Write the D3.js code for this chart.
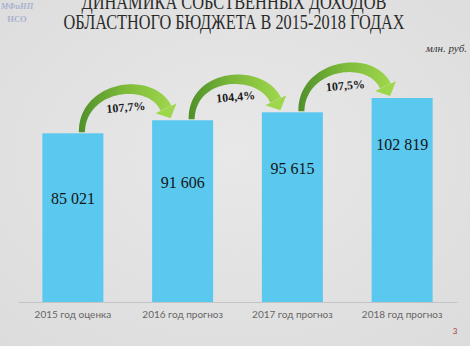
<!DOCTYPE html>
<html>
<head>
<meta charset="utf-8">
<script src="https://cdn.jsdelivr.net/npm/d3@7"></script>
<style>
  body { margin: 0; background: #e4e4e4; }
  svg { display: block; }
</style>
</head>
<body>
<svg id="chart"></svg>
<script>
var width = 470
var height = 346

// data
var categories = ["2015 год оценка", "2016 год прогноз", "2017 год прогноз", "2018 год прогноз"]
var values = [85021, 91606, 95615, 102819]
var labelDrop = [71, 68, 62, 52]   // value label baseline below bar top
var titleLines = ["ДИНАМИКА СОБСТВЕННЫХ ДОХОДОВ", "ОБЛАСТНОГО БЮДЖЕТА В 2015-2018 ГОДАХ"]

let svg = d3.select("#chart")
  .attr("width", width)
  .attr("height", height)

let defs = svg.append("defs")

let bg = defs.append("radialGradient").attr("id", "bg")
  .attr("cx", "50%").attr("cy", "45%").attr("r", "75%")
bg.append("stop").attr("offset", "0%").attr("stop-color", "#e8e8e8")
bg.append("stop").attr("offset", "100%").attr("stop-color", "#dcdcdc")
svg.append("rect").attr("width", width).attr("height", height).attr("fill", "url(#bg)")

// scales
var x = d3.scaleBand()
  .domain(categories)
  .range([18, 457])
  .paddingInner(0.444)
  .paddingOuter(0.222)

var y = d3.scaleLinear()
  .domain([0, 120000])
  .range([302, 302 - 120000 * 204 / 102819])

// title (top line is cut by the slide edge, as in the original)
svg.append("g").selectAll("text")
  .data(titleLines)
  .enter().append("text")
  .attr("x", 234)
  .attr("y", (d, i) => 9 + i * 20)
  .attr("text-anchor", "middle")
  .attr("textLength", (d, i) => i == 0 ? 305 : 341)
  .attr("lengthAdjust", "spacingAndGlyphs")
  .style("font-family", "Liberation Serif, serif")
  .style("font-size", "21px")
  .style("fill", "#2a2a2a")
  .text(d => d)

// logo
svg.append("text").attr("x", 17).attr("y", 9).attr("text-anchor", "middle")
  .style("font-family", "Liberation Serif").style("font-style", "italic").style("font-weight", "bold")
  .style("font-size", "8.5px").style("fill", "#a9b3cf").text("МФиНП")
svg.append("text").attr("x", 17).attr("y", 22).attr("text-anchor", "middle")
  .style("font-family", "Liberation Serif").style("font-weight", "bold")
  .style("font-size", "8.5px").style("fill", "#a9b3cf").text("НСО")

// units
svg.append("text").attr("x", 467).attr("y", 52).attr("text-anchor", "end")
  .style("font-family", "Liberation Serif").style("font-style", "italic")
  .style("font-size", "11px").style("fill", "#333").text("млн. руб.")

// axis
let axis = svg.append("g")
  .attr("class", "x-axis")
  .attr("transform", "translate(0,302)")
  .call(d3.axisBottom(x).tickSize(0).tickPadding(9))
axis.select(".domain").attr("stroke", "#c4c4c4")
axis.selectAll("text")
  .style("font-family", "Lato, sans-serif")
  .style("font-size", "10px")
  .style("fill", "#666")

// bars
svg.append("g").selectAll("rect")
  .data(values)
  .enter().append("rect")
  .attr("x", (d, i) => x(categories[i]))
  .attr("y", d => y(d))
  .attr("width", x.bandwidth())
  .attr("height", d => y(0) - y(d))
  .attr("fill", "#5bc8f0")

// value labels
svg.append("g").selectAll("text")
  .data(values)
  .enter().append("text")
  .attr("x", (d, i) => x(categories[i]) + x.bandwidth() / 2)
  .attr("y", (d, i) => y(d) + labelDrop[i])
  .attr("text-anchor", "middle")
  .style("font-family", "Liberation Serif, serif")
  .style("font-size", "16px")
  .style("fill", "#151515")
  .text(d => d3.format(",")(d).replace(",", " "))

// growth arrows
var growth = d3.pairs(values).map(p => p[1] / p[0] * 100)
let arrowLayer = svg.append("g")

function cubic(p0, p1, p2, p3, t) {
  var u = 1 - t
  return [
    u * u * u * p0[0] + 3 * u * u * t * p1[0] + 3 * u * t * t * p2[0] + t * t * t * p3[0],
    u * u * u * p0[1] + 3 * u * u * t * p1[1] + 3 * u * t * t * p2[1] + t * t * t * p3[1]
  ]
}

growth.forEach(function (g, i) {
  var cx0 = x(categories[i]) + x.bandwidth() / 2
  var cx1 = x(categories[i + 1]) + x.bandwidth() / 2
  var x0 = cx0 + 9, y0 = y(values[i]) - 1
  var tx = cx1 - 12, ty = y(values[i + 1]) - 2
  var ang = 65 * Math.PI / 180
  var dx = Math.cos(ang), dy = Math.sin(ang)
  var hl = 11, hw = 11.5
  var B = [tx - hl * dx, ty - hl * dy]
  var P0 = [x0, y0]
  var P1 = [x0, y0 - 47]
  var P2 = [B[0] - 36 * dx, B[1] - 36 * dy]

  // body as a band whose width grows towards the head
  var n = 40, left = [], right = []
  for (var k = 0; k <= n; k++) {
    var t = k / n
    var p = cubic(P0, P1, P2, B, t)
    var q = cubic(P0, P1, P2, B, Math.min(1, t + 0.001))
    var r = cubic(P0, P1, P2, B, Math.max(0, t - 0.001))
    var vx = q[0] - r[0], vy = q[1] - r[1]
    var len = Math.sqrt(vx * vx + vy * vy)
    var nx = -vy / len, ny = vx / len
    var w = (6 + 6 * t) / 2
    left.push([p[0] + nx * w, p[1] + ny * w])
    right.push([p[0] - nx * w, p[1] - ny * w])
  }
  var body = left.concat(right.reverse())

  var gid = "ag" + i
  let grad = defs.append("linearGradient").attr("id", gid)
    .attr("gradientUnits", "userSpaceOnUse")
    .attr("x1", x0 - 4).attr("y1", 0).attr("x2", tx).attr("y2", 0)
  grad.append("stop").attr("offset", "0%").attr("stop-color", "#4f8f2a")
  grad.append("stop").attr("offset", "50%").attr("stop-color", "#7dba3a")
  grad.append("stop").attr("offset", "100%").attr("stop-color", "#9ed64c")

  arrowLayer.append("path")
    .attr("d", d3.line()(body) + "Z")
    .attr("fill", "url(#" + gid + ")")

  var px = -dy, py = dx
  arrowLayer.append("path")
    .attr("d", "M" + (B[0] + px * hw) + "," + (B[1] + py * hw) +
      "L" + tx + "," + ty +
      "L" + (B[0] - px * hw) + "," + (B[1] - py * hw) + "Z")
    .attr("fill", "#9ed64c")

  var lx = (x0 + tx) / 2
  var ly = (y0 + ty) / 2 - 14
  arrowLayer.append("text")
    .attr("transform", "translate(" + lx + "," + ly + ") rotate(-5)")
    .attr("text-anchor", "middle")
    .style("font-family", "Liberation Serif, serif")
    .style("font-weight", "bold")
    .style("font-size", "12px")
    .style("fill", "#1a1a1a")
    .text(d3.format(".1f")(g).replace(".", ",") + "%")
})

// page number
svg.append("text").attr("x", 455).attr("y", 334).attr("text-anchor", "middle")
  .style("font-family", "Lato, sans-serif").style("font-size", "8px")
  .style("fill", "#a23a3a").text("3")
</script>
</body>
</html>
